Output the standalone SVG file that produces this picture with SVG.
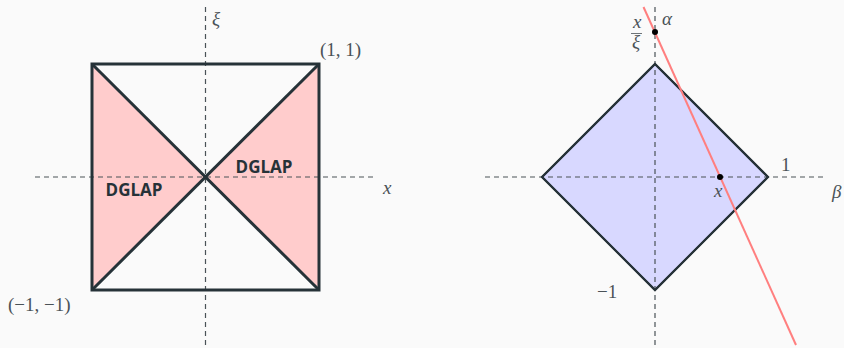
<svg xmlns="http://www.w3.org/2000/svg" width="844" height="348" viewBox="0 0 844 348">
<style>
.axis{stroke:#4a5257;stroke-width:1.2;stroke-dasharray:5,4;fill:none}
.math{font-family:"Liberation Serif","DejaVu Serif",serif;font-style:italic;fill:#4a5257;font-size:19px}
.num{font-family:"Liberation Serif","DejaVu Serif",serif;fill:#4a5257;font-size:19px}
.dg{font-family:"Open Sans","Liberation Sans",sans-serif;font-weight:bold;fill:#263238;font-size:17px}
.edge{stroke:#263238;stroke-linejoin:miter}
</style>
<rect width="844" height="348" fill="#fafafa"/>
<g id="left-plot">
  <polygon points="92,64 205.5,177 92,290" fill="#ffcccc"/>
  <polygon points="319,64 205.5,177 319,290" fill="#ffcccc"/>
  <g id="left-axes">
    <line class="axis" x1="35" y1="177" x2="377" y2="177"/>
    <line class="axis" x1="205.5" y1="7" x2="205.5" y2="348"/>
  </g>
  <rect class="edge" x="92" y="64" width="227" height="226" stroke-width="3" fill="none"/>
  <line class="edge" x1="92" y1="64" x2="319" y2="290" stroke-width="3"/>
  <line class="edge" x1="92" y1="290" x2="319" y2="64" stroke-width="3"/>
  <text class="dg" x="134" y="196" text-anchor="middle">DGLAP</text>
  <text class="dg" x="264" y="173" text-anchor="middle">DGLAP</text>
  <text class="math" x="212" y="25">ξ</text>
  <text class="math" x="383" y="194">x</text>
  <text class="num" x="320" y="56">(1, 1)</text>
  <text class="num" x="8" y="311">(−1, −1)</text>
</g>
<g id="right-plot">
  <polygon class="edge" points="655,64 768,177 655,290 542,177" fill="#d8d8ff" stroke-width="2"/>
  <g id="right-axes">
    <line class="axis" x1="485" y1="177" x2="826" y2="177"/>
    <line class="axis" x1="655" y1="7" x2="655" y2="348"/>
  </g>
  <polygon class="edge" points="655,64 768,177 655,290 542,177" stroke-width="2" fill="none"/>
  <line x1="643.5" y1="7" x2="796" y2="345" stroke="#ff7f7f" stroke-width="2"/>
  <circle cx="655" cy="32" r="3" fill="#000"/>
  <circle cx="720" cy="177" r="3" fill="#000"/>
  <text class="math" x="662" y="25">α</text>
  <text class="math" x="633" y="28" font-size="12">x</text>
  <line x1="631" y1="33.5" x2="642" y2="33.5" stroke="#4a5257" stroke-width="0.8"/>
  <text class="math" x="632" y="48" font-size="12">ξ</text>
  <text class="num" x="781" y="171">1</text>
  <text class="math" x="832" y="198">β</text>
  <text class="math" x="714" y="197">x</text>
  <text class="num" x="597" y="298">−1</text>
</g>
</svg>
